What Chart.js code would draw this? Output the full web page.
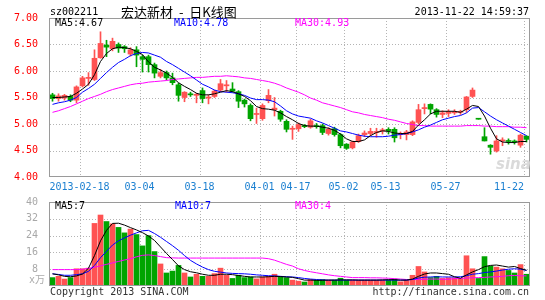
<!DOCTYPE html>
<html>
<head>
<meta charset="utf-8">
<script src="https://cdn.jsdelivr.net/npm/chart.js@4.4.0/dist/chart.umd.min.js"></script>
<style>
  body { margin: 0; background: #fff; }
  #wrap { position: relative; width: 545px; height: 300px; overflow: hidden;
          font-family: 'DejaVu Sans Mono', monospace; font-size: 10px; }
  #wrap canvas { position: absolute; left: 0; }
  .t { position: absolute; white-space: nowrap; line-height: 12px; }
</style>
</head>
<body>
<div id="wrap">
  <canvas id="priceChart" width="545" height="195" style="top:0"></canvas>
  <canvas id="volChart" width="545" height="110" style="top:190px"></canvas>

  <div class="t" style="left:50px;top:6px;color:#000">sz002211</div>
  <div class="t" style="left:121px;top:5px;font-family:'Noto Sans CJK SC';font-size:13px;line-height:14px;word-spacing:3px;color:#000">宏达新材 - 日K线图</div>
  <div class="t" style="right:16px;top:6px;color:#000">2013-11-22 14:59:37</div>

  <div class="t" style="left:55px;top:17px;color:#000">MA5:4.67</div>
  <div class="t" style="left:174px;top:17px;color:#0000ff">MA10:4.78</div>
  <div class="t" style="left:295px;top:17px;color:#ff00ff">MA30:4.93</div>

  <div class="t" style="left:496px;top:158px;font-family:'DejaVu Sans';font-weight:bold;font-style:italic;font-size:15px;color:#dadada">sina</div>

  <div class="t" style="left:55px;top:200px;color:#000">MA5:7</div>
  <div class="t" style="left:175px;top:200px;color:#0000ff">MA10:7</div>
  <div class="t" style="left:295px;top:200px;color:#ff00ff">MA30:4</div>
  <div class="t" style="right:500px;top:274px;color:#aaa;font-family:'DejaVu Sans Mono','Noto Sans CJK SC'">x万</div>

  <div class="t" style="left:50px;top:286px;color:#333">Copyright 2013 SINA.COM</div>
  <div class="t" style="right:16px;top:286px;color:#333">http://finance.sina.com.cn</div>
</div>

<script>
// daily candles, oldest first
const opens = [5.55,5.48,5.49,5.52,5.45,5.72,5.86,5.84,6.25,6.49,
  6.42,6.50,6.46,6.32,6.40,6.27,6.27,6.12,5.90,5.97,
  5.87,5.74,5.50,5.57,5.54,5.63,5.49,5.52,5.64,5.72,
  5.66,5.61,5.45,5.35,5.18,5.10,5.44,5.27,5.24,5.05,
  4.90,4.91,4.97,4.94,4.97,4.97,4.82,4.91,4.80,4.62,
  4.55,4.67,4.80,4.82,4.84,4.87,4.90,4.90,4.80,4.80,
  4.80,5.03,5.29,5.37,5.27,5.18,5.20,5.21,5.22,5.27,
  5.52,5.10,4.76,4.60,4.49,4.68,4.68,4.68,4.60,4.77];
const highs = [5.58,5.57,5.56,5.55,5.72,5.90,5.97,6.40,6.74,6.58,
  6.62,6.53,6.48,6.44,6.46,6.30,6.30,6.15,6.03,6.00,
  5.96,5.77,5.61,5.60,5.58,5.68,5.55,5.64,5.84,5.82,
  5.78,5.63,5.47,5.38,5.30,5.38,5.65,5.50,5.26,5.08,
  4.96,5.02,4.99,5.09,5.01,5.00,4.93,4.94,4.82,4.63,
  4.68,4.81,4.87,4.92,4.92,4.92,4.93,4.93,4.85,4.88,
  5.06,5.37,5.38,5.38,5.29,5.25,5.27,5.27,5.26,5.52,
  5.68,5.10,4.93,4.61,4.78,4.74,4.72,4.70,4.81,4.78];
const lows = [5.43,5.43,5.45,5.42,5.40,5.70,5.73,5.82,6.24,6.27,
  6.38,6.35,6.35,6.28,6.08,5.98,5.98,5.87,5.87,5.83,
  5.74,5.43,5.42,5.52,5.40,5.40,5.38,5.50,5.61,5.60,
  5.60,5.31,5.32,5.06,5.01,5.07,5.40,5.15,5.05,4.85,
  4.71,4.86,4.93,4.92,4.92,4.80,4.79,4.77,4.55,4.52,
  4.53,4.65,4.76,4.78,4.75,4.81,4.81,4.66,4.72,4.70,
  4.78,5.00,5.19,5.19,5.13,5.12,5.14,5.18,5.18,5.22,
  5.50,5.09,4.68,4.43,4.47,4.59,4.62,4.62,4.56,4.66];
const closes = [5.48,5.53,5.54,5.45,5.70,5.87,5.88,6.24,6.52,6.45,
  6.56,6.43,6.42,6.40,6.30,6.22,6.12,5.96,5.97,5.87,
  5.78,5.54,5.60,5.55,5.56,5.48,5.50,5.62,5.76,5.74,
  5.62,5.43,5.38,5.10,5.19,5.35,5.54,5.30,5.09,4.90,
  4.92,4.99,4.95,5.06,4.95,4.84,4.90,4.80,4.59,4.54,
  4.66,4.78,4.83,4.86,4.85,4.89,4.87,4.74,4.82,4.85,
  5.04,5.27,5.31,5.28,5.18,5.21,5.23,5.23,5.24,5.51,
  5.64,5.09,4.68,4.56,4.68,4.70,4.67,4.66,4.79,4.71];

const priceMa5 = [5.50,5.50,5.51,5.52,5.58,5.66,5.75,5.93,6.18,6.33,
  6.42,6.45,6.44,6.42,6.37,6.31,6.17,6.07,6.02,5.96,
  5.88,5.78,5.71,5.65,5.58,5.55,5.55,5.57,5.60,5.63,
  5.61,5.57,5.52,5.44,5.33,5.29,5.28,5.26,5.21,5.14,
  5.08,5.01,4.97,4.96,4.96,4.94,4.92,4.88,4.81,4.72,
  4.67,4.67,4.70,4.78,4.84,4.87,4.86,4.83,4.82,4.82,
  4.86,4.98,5.08,5.19,5.24,5.24,5.24,5.24,5.22,5.28,
  5.35,5.33,5.15,4.92,4.72,4.66,4.65,4.65,4.67,4.67];
const priceMa10 = [5.37,5.40,5.42,5.45,5.50,5.60,5.67,5.75,5.86,5.97,
  6.07,6.16,6.22,6.29,6.33,6.35,6.34,6.30,6.26,6.18,
  6.12,6.05,5.98,5.91,5.83,5.75,5.70,5.64,5.61,5.60,
  5.59,5.57,5.54,5.49,5.46,5.46,5.45,5.42,5.34,5.25,
  5.19,5.15,5.13,5.11,5.06,5.02,4.97,4.92,4.87,4.85,
  4.82,4.79,4.77,4.76,4.76,4.76,4.77,4.79,4.80,4.82,
  4.85,4.89,4.94,4.98,5.03,5.08,5.11,5.14,5.16,5.21,
  5.30,5.31,5.23,5.15,5.08,5.02,4.96,4.90,4.84,4.78];
const priceMa30 = [5.22,5.25,5.29,5.33,5.38,5.43,5.48,5.52,5.56,5.61,
  5.65,5.68,5.71,5.74,5.76,5.77,5.79,5.80,5.81,5.82,
  5.84,5.85,5.86,5.87,5.88,5.88,5.89,5.90,5.90,5.91,
  5.90,5.89,5.87,5.86,5.84,5.82,5.80,5.77,5.73,5.68,
  5.64,5.60,5.55,5.49,5.45,5.40,5.37,5.34,5.31,5.27,
  5.23,5.21,5.18,5.16,5.14,5.12,5.09,5.07,5.04,5.01,
  4.99,4.97,4.97,4.96,4.96,4.96,4.96,4.96,4.96,4.97,
  4.97,4.97,4.96,4.96,4.95,4.95,4.95,4.94,4.94,4.93];

// volume in 万 shares
const volumes = [4.0,4.6,3.3,4.0,8.2,8.2,8.5,29.8,33.8,30.7,
  29.6,27.9,25.3,27.1,24.5,19.1,24.0,16.4,10.5,6.2,
  7.1,9.8,6.2,4.3,5.6,4.6,4.6,5.9,8.5,5.1,
  3.6,5.1,4.0,4.3,3.4,4.3,4.6,5.6,4.6,4.0,
  2.8,2.3,1.9,3.1,2.8,3.1,2.8,2.8,3.7,2.8,
  2.8,2.8,2.8,2.8,2.8,2.8,2.8,3.3,2.0,2.8,
  5.1,9.3,6.7,4.0,4.6,3.6,3.9,3.9,3.6,14.4,
  8.2,3.6,14.0,9.5,9.0,8.2,7.4,6.2,10.2,5.6];
const volMa5 = [5.8,5.3,4.6,4.4,4.8,5.7,8.5,14.5,21.5,26.5,
  29.8,29.9,29.0,27.8,26.7,25.4,23.8,21.7,18.6,15.5,
  12.6,9.6,7.8,6.8,6.3,5.6,5.1,5.1,5.6,5.6,
  5.4,5.0,4.6,4.3,4.3,4.3,4.4,4.6,4.5,4.3,
  4.1,3.5,2.8,2.8,2.7,2.7,2.8,2.8,2.9,2.9,
  2.9,2.8,2.8,2.8,2.8,2.9,3.0,3.0,2.8,2.8,
  3.3,4.6,5.7,6.2,6.2,5.9,5.6,4.4,3.7,5.3,
  6.7,7.8,9.2,9.8,10.0,9.5,9.0,9.3,8.3,7.5];
const volMa10 = [5.8,5.5,5.1,5.1,5.4,5.8,7.0,9.8,13.5,16.5,
  19.5,21.5,22.9,24.2,25.3,26.3,26.5,25.0,23.2,21.2,
  19.2,17.0,14.5,12.2,10.5,9.0,7.8,7.0,6.6,6.2,
  6.0,5.9,5.8,5.6,5.3,5.1,4.9,4.8,4.6,4.4,
  4.3,4.0,3.6,3.3,3.1,2.9,2.8,2.8,2.8,2.8,
  2.8,2.8,2.8,2.8,2.8,2.8,2.8,2.8,2.8,2.8,
  3.1,3.8,4.2,4.3,4.4,4.3,4.3,4.3,4.4,4.9,
  5.6,5.9,6.4,6.7,7.1,7.6,8.0,8.2,8.0,7.4];
const volMa30 = [7.8,7.8,7.8,7.8,7.8,8.0,8.4,8.9,9.6,10.3,
  11.0,11.7,12.4,13.0,13.9,14.6,14.8,14.5,14.0,13.5,
  13.4,13.3,13.3,13.3,13.3,13.3,13.3,13.3,13.3,13.3,
  13.3,13.3,13.3,13.3,13.3,13.3,13.0,12.3,11.3,10.3,
  9.5,8.2,7.4,6.8,6.3,5.8,5.3,4.9,4.6,4.3,
  4.0,4.0,4.0,3.9,3.9,3.8,3.7,3.5,3.3,3.1,
  3.1,3.1,3.2,3.3,3.3,3.2,3.2,3.5,3.6,3.8,
  3.9,4.0,4.1,4.3,4.4,4.6,4.9,5.0,4.9,4.8];

// date ticks: candle index where each label sits
const dateLabels = ['2013-02-18','03-04','03-18','04-01','04-17','05-02','05-13','05-27','11-22'];
const dateIndex = [5, 15, 25, 35, 41, 49, 56, 66, 79];

const UP = '#ff5252', DOWN = '#00a400';
const MONO = 'DejaVu Sans Mono';
const candleColors = closes.map((c, i) => c >= opens[i] ? UP : DOWN);
const xy = arr => arr.map((v, i) => ({x: i, y: v}));

// x axis shared by both panels; the small shift keeps 5px bodies on whole pixels
const xAxis = {
    type: 'linear',
    display: false,
    offset: false,
    min: -0.5 + 1 / 12,
    max: closes.length - 0.5 + 1 / 12
};

const panelFrame = {
    id: 'panelFrame',
    beforeDatasetsDraw(chart) {
        const {ctx, chartArea: a, scales: {x, y}} = chart;
        ctx.save();
        ctx.strokeStyle = '#b4b4b4';
        ctx.lineWidth = 1;
        ctx.setLineDash([1, 2]);
        y.ticks.forEach(t => {
            if (t.value <= y.min || t.value >= y.max) return;
            const py = Math.round(y.getPixelForValue(t.value)) + 0.5;
            ctx.beginPath();
            ctx.moveTo(a.left, py);
            ctx.lineTo(a.right, py);
            ctx.stroke();
        });
        dateIndex.forEach(idx => {
            const px = Math.round(x.getPixelForValue(idx - 0.5)) + 0.5;
            ctx.beginPath();
            ctx.moveTo(px, a.top);
            ctx.lineTo(px, a.bottom);
            ctx.stroke();
        });
        ctx.restore();
    },
    afterDraw(chart, args, opts) {
        const {ctx, chartArea: a, scales: {x}} = chart;
        ctx.save();
        ctx.strokeStyle = '#9a9a9a';
        ctx.lineWidth = 1;
        ctx.strokeRect(a.left - 0.5, a.top + 0.5, a.width, a.height - 1);
        if (opts.dates) {
            ctx.font = '10px "' + MONO + '"';
            ctx.fillStyle = '#1a7fd0';
            ctx.textAlign = 'center';
            ctx.textBaseline = 'middle';
            dateIndex.forEach((idx, k) => {
                const w = ctx.measureText(dateLabels[k]).width;
                const px = Math.min(x.getPixelForValue(idx - 0.5), a.right - 6 - w / 2);
                ctx.fillText(dateLabels[k], px, a.bottom + 10);
            });
        }
        ctx.restore();
    }
};

function maLine(data, color) {
    return {
        type: 'line',
        data: xy(data),
        borderColor: color,
        borderWidth: 1,
        pointRadius: 0,
        tension: 0,
        order: 0
    };
}

function yAxis(min, max, step, color, fmt) {
    return {
        min: min,
        max: max,
        border: {display: false},
        grid: {display: false},
        ticks: {
            stepSize: step,
            padding: 4,
            color: color,
            font: {family: MONO, size: 10},
            callback: fmt
        },
        afterFit: scale => { scale.width = 50; }
    };
}

new Chart(document.getElementById('priceChart'), {
    type: 'bar',
    data: {
        datasets: [
            maLine(priceMa5, '#000000'),
            maLine(priceMa10, '#0000ff'),
            maLine(priceMa30, '#ff00ff'),
            {
                data: opens.map((o, i) => ({x: i, y: [o, closes[i]]})),
                backgroundColor: candleColors,
                barThickness: 5,
                minBarLength: 1,
                grouped: false,
                order: 1
            },
            {
                data: lows.map((l, i) => ({x: i, y: [l, highs[i]]})),
                backgroundColor: candleColors,
                barThickness: 1,
                grouped: false,
                order: 2
            }
        ]
    },
    options: {
        responsive: false,
        animation: false,
        events: [],
        layout: {padding: {top: 18, right: 15, bottom: 18, left: 0}},
        scales: {
            x: xAxis,
            y: yAxis(4, 7, 0.5, '#ff0000', v => v.toFixed(2))
        },
        plugins: {
            legend: {display: false},
            tooltip: {enabled: false},
            panelFrame: {dates: true}
        }
    },
    plugins: [panelFrame]
});

new Chart(document.getElementById('volChart'), {
    type: 'bar',
    data: {
        datasets: [
            maLine(volMa5, '#000000'),
            maLine(volMa10, '#0000ff'),
            maLine(volMa30, '#ff00ff'),
            {
                data: xy(volumes),
                backgroundColor: candleColors,
                barThickness: 5,
                grouped: false,
                order: 1
            }
        ]
    },
    options: {
        responsive: false,
        animation: false,
        events: [],
        layout: {padding: {top: 12, right: 15, bottom: 14, left: 0}},
        scales: {
            x: xAxis,
            y: yAxis(0, 40, 8, '#a8a8a8', v => v === 0 ? '' : v)
        },
        plugins: {
            legend: {display: false},
            tooltip: {enabled: false},
            panelFrame: {dates: false}
        }
    },
    plugins: [panelFrame]
});
</script>
</body>
</html>
